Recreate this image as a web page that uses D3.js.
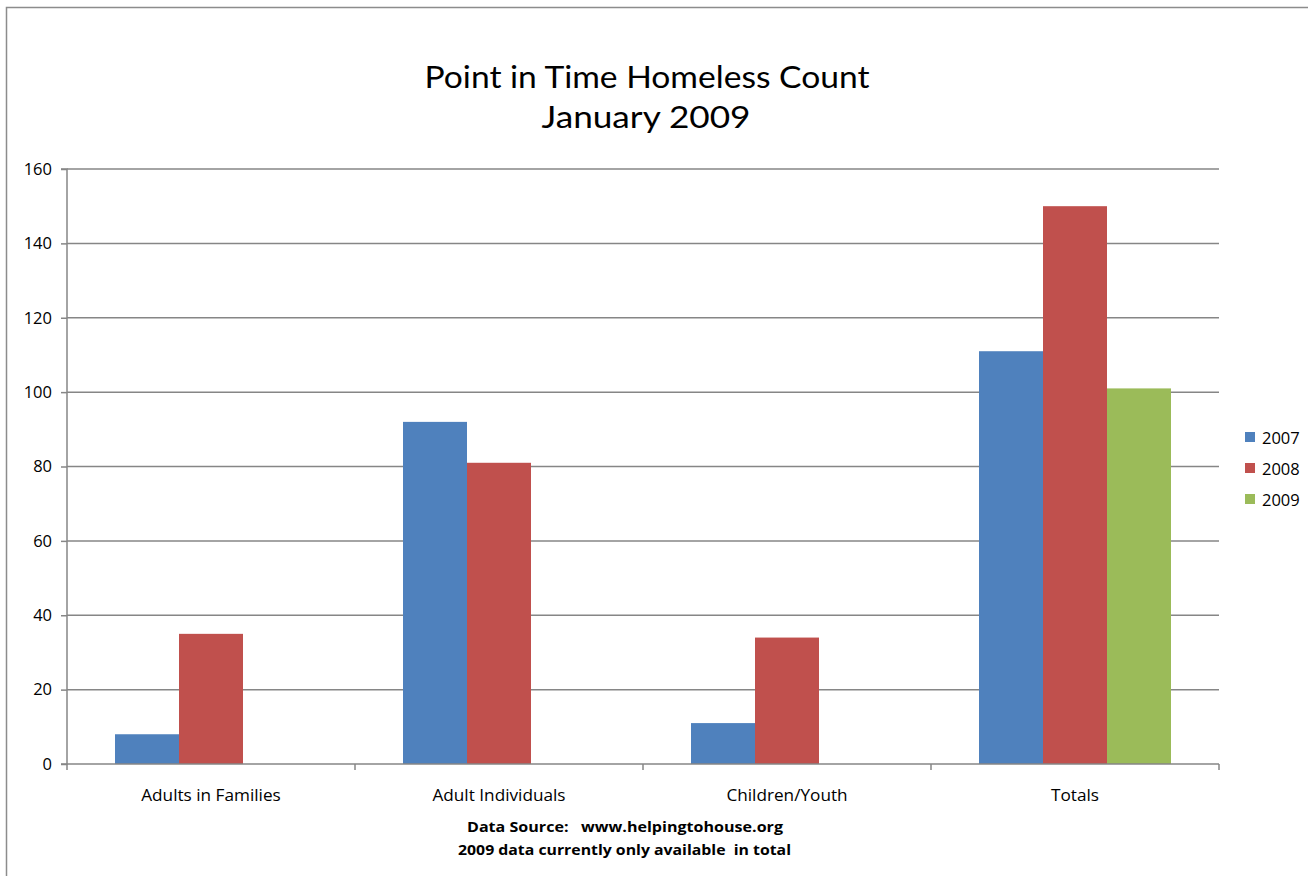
<!DOCTYPE html>
<html><head><meta charset="utf-8">
<script src="https://cdn.jsdelivr.net/npm/d3@7"></script>
<style>
html,body{margin:0;padding:0;background:#fff;}
svg{display:block;}
text{fill:#000;}
</style></head>
<body>
<svg id="c" width="1308" height="876" font-family="'Open Sans', Lato, sans-serif"></svg>
<script>
const categories = ["Adults in Families","Adult Individuals","Children/Youth","Totals"];
const seriesNames = ["2007","2008","2009"];
const values2007 = [8, 92, 11, 111];
const values2008 = [35, 81, 34, 150];
const values2009 = [null, null, null, 101];
const yTicks = [0,20,40,60,80,100,120,140,160];
const colors = ["#4f81bd","#c0504d","#9bbb59"];
const titleLines = ["Point in Time Homeless Count","January 2009"];
const footerLines = ["Data Source:   www.helpingtohouse.org","2009 data currently only available  in total"];

const series = [values2007, values2008, values2009];
const svg = d3.select("#c");
const m = {left:67, right:1219, top:169, bottom:764};

// frame
svg.append("path").attr("d","M6.5,876 L6.5,7.5 L1308,7.5").attr("fill","none").attr("stroke","#8c8c8c").attr("stroke-width",1.5);

const x = d3.scaleBand().domain(categories).range([m.left, m.right]).paddingInner(0).paddingOuter(0);
const xs = d3.scaleBand().domain(seriesNames).range([0, x.bandwidth()]).paddingInner(0).paddingOuter(0.75);
const y = d3.scaleLinear().domain([0,160]).range([m.bottom, m.top]);

// gridlines
svg.append("g").selectAll("line").data(yTicks.filter(d=>d>0)).join("line")
  .attr("x1", m.left).attr("x2", m.right)
  .attr("y1", d=>y(d)).attr("y2", d=>y(d))
  .attr("stroke","#868686").attr("stroke-width",1.5);

// bars
const g = svg.append("g");
series.forEach((vals, si) => {
  g.selectAll(null).data(categories.map((c,i)=>({c, v: vals[i]})).filter(d=>d.v!=null)).join("rect")
    .attr("x", d=> x(d.c) + xs(seriesNames[si]))
    .attr("width", xs.bandwidth())
    .attr("y", d=> y(d.v))
    .attr("height", d=> y(0) - y(d.v))
    .attr("fill", colors[si]);
});

// y axis
const yAxis = d3.axisLeft(y).tickValues(yTicks).tickSize(6).tickPadding(9).tickFormat(d3.format("d"));
const ya = svg.append("g").attr("transform",`translate(${m.left},0)`).call(yAxis);
ya.attr("font-family",null).attr("font-size",null);
ya.select(".domain").attr("stroke","#868686").attr("stroke-width",1.5).attr("d",`M-6,${m.top}H0V${m.bottom}H-6`);
ya.selectAll(".tick line").attr("stroke","#868686").attr("stroke-width",1.5);
ya.selectAll(".tick text").attr("font-size",16.5).attr("fill","#000");

// x axis
const xa = svg.append("g").attr("transform",`translate(0,${m.bottom})`);
xa.append("line").attr("x1",m.left).attr("x2",m.right).attr("stroke","#868686").attr("stroke-width",1.5);
const bounds = categories.map(c=>x(c)).concat([m.right]);
xa.selectAll(".tk").data(bounds).join("line").attr("class","tk")
  .attr("x1",d=>d).attr("x2",d=>d).attr("y1",0).attr("y2",6)
  .attr("stroke","#868686").attr("stroke-width",1.5);
xa.selectAll(".lbl").data(categories).join("text").attr("class","lbl")
  .attr("x", d=> x(d)+x.bandwidth()/2).attr("y", 37)
  .attr("text-anchor","middle").attr("font-size",17.2).attr("fill","#222").text(d=>d);

// title
svg.append("text").attr("x",647).attr("y",88).attr("text-anchor","middle").attr("font-family","Lato, sans-serif")
  .attr("font-size",31).attr("textLength",445).attr("lengthAdjust","spacingAndGlyphs").text(titleLines[0]);
svg.append("text").attr("x",646).attr("y",128).attr("text-anchor","middle").attr("font-family","Lato, sans-serif")
  .attr("font-size",31).attr("textLength",209).attr("lengthAdjust","spacingAndGlyphs").text(titleLines[1]);

// footer
svg.append("text").attr("x",625).attr("y",832).attr("text-anchor","middle")
  .attr("font-size",15).attr("font-weight","bold").attr("textLength",316).attr("lengthAdjust","spacingAndGlyphs")
  .style("white-space","pre").text(footerLines[0]);
svg.append("text").attr("x",624.5).attr("y",855).attr("text-anchor","middle")
  .attr("font-size",15).attr("font-weight","bold").attr("textLength",333).attr("lengthAdjust","spacingAndGlyphs")
  .style("white-space","pre").text(footerLines[1]);

// legend
const lg = svg.append("g").selectAll("g").data(seriesNames).join("g")
  .attr("transform",(d,i)=>`translate(1245,${432 + i*31})`);
lg.append("rect").attr("width",10).attr("height",10).attr("fill",(d,i)=>colors[i]);
lg.append("text").attr("x",17).attr("y",11.5).attr("font-size",16.5).text(d=>d);
</script>
</body></html>
